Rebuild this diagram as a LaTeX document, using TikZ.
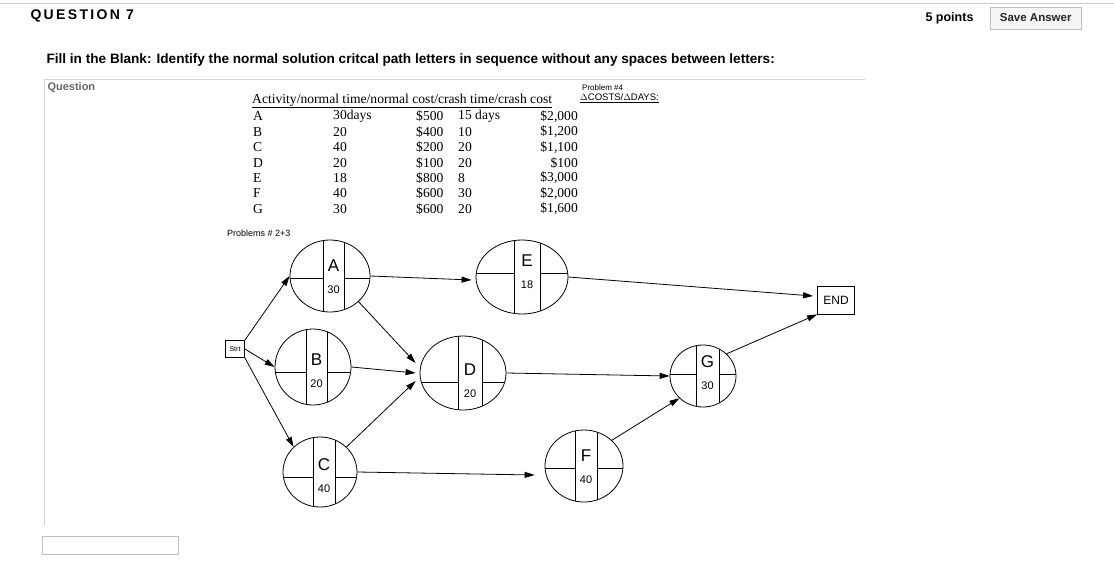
\documentclass[tikz,border=0pt]{standalone}
\usepackage{fontspec}
\setmainfont{Liberation Sans}
\newfontfamily\tablefont{Liberation Serif}
\usetikzlibrary{arrows.meta, positioning, calc, shapes.geometric}

\begin{document}
\begin{tikzpicture}[
    x=1pt, y=-1pt,
    >={Triangle[length=10pt, width=6pt]},
    act/.style={draw, thick, ellipse, inner sep=0pt},
    conn/.style={->, thick},
    hand/.style={font=\fontsize{11}{11}\selectfont},
    cell/.style={font=\tablefont\fontsize{13.6}{13}\selectfont, inner sep=0pt}
]
\useasboundingbox (0,0) rectangle (1114,581);

%-------------------------------
% 1) Page header
%-------------------------------
\draw[gray!40] (0,3) -- (1114,3);
\node[anchor=west, font=\bfseries\fontsize{14}{14}\selectfont] (qtitle) at (27,16) {Q\,U\,E\,S\,T\,I\,O\,N\,\ 7};
\node[anchor=west, font=\bfseries\fontsize{12.5}{12}\selectfont] (points) at (922,18) {5 points};
\node[draw=gray!50, fill=gray!8, anchor=west, minimum width=91pt, minimum height=22pt,
      font=\bfseries\fontsize{11.5}{11}\selectfont, text=gray!30!black] (save) at (990,18) {Save Answer};
\node[anchor=west, font=\bfseries\fontsize{13.6}{13}\selectfont] (prompt) at (43,60)
      {Fill in the Blank: Identify the normal solution critcal path letters in sequence without any spaces between letters:};
\draw[gray!35] (44,79) -- (865,79);
\draw[gray!35] (44,79) -- (44,525);
\node[anchor=west, text=gray!80!black, font=\bfseries\fontsize{11}{10}\selectfont] (qlabel) at (44,88) {Question};
\node[draw=gray!50, minimum width=136pt, minimum height=18pt, anchor=north west] (answer) at (42,536) {};

%-------------------------------
% 2) Activity table
%-------------------------------
\node[cell, anchor=west] (thead) at (252,101) {\underline{Activity/normal time/normal cost/crash time/crash cost}};
\foreach \row/\nt/\nc/\ct/\cc [count=\i] in {
    A/30days/\$500/15 days/\$2{,}000,
    B/20/\$400/10/\$1{,}200,
    C/40/\$200/20/\$1{,}100,
    D/20/\$100/20/\$100,
    E/18/\$800/8/\$3{,}000,
    F/40/\$600/30/\$2{,}000,
    G/30/\$600/20/\$1{,}600}{
  \node[cell, anchor=west] (r\i a) at (253,{101+15.4*\i}) {\row};
  \node[cell, anchor=west] (r\i b) at (333,{101+15.4*\i}) {\nt};
  \node[cell, anchor=west] (r\i c) at (416,{101+15.4*\i}) {\nc};
  \node[cell, anchor=west] (r\i d) at (458,{101+15.4*\i}) {\ct};
  \node[cell, anchor=east] (r\i e) at (578,{101+15.4*\i}) {\cc};
}
\node[anchor=west, font=\fontsize{8}{8}\selectfont, inner sep=0pt] (prob4) at (582,88) {Problem \#4};
\node[anchor=west, font=\fontsize{9.5}{9}\selectfont, inner sep=0pt] (deltas) at (580,98)
      {\underline{$\Delta$COSTS/$\Delta$DAYS:}};
\node[anchor=west, font=\fontsize{9}{9}\selectfont, inner sep=0pt] (prob23) at (227,233) {Problems \# 2+3};

%-------------------------------
% 3) Network nodes
%-------------------------------
\foreach \n/\cx/\cy/\rx/\ry/\l/\t/\vl/\vr/\hy in {
    A/330/276/40/36/A/30/323/344/278,
    B/313/367/38/38/B/20/306/327/372,
    C/320/472/37/35/C/40/313/335/477,
    D/463/373/43/37/D/20/458/482/382,
    E/522/277/46/37/E/18/514/540/273,
    F/584/466/39/36/F/40/575/597/468,
    G/703/376/33/31/G/30/696/719/374}{
  \node[act, minimum width={2*\rx pt}, minimum height={2*\ry pt}] (\n) at (\cx,\cy) {};
  \begin{scope}
    \clip (\cx,\cy) ellipse [x radius=\rx, y radius=\ry];
    \draw[thick] (\vl,\cy-\ry) -- (\vl,\cy+\ry);
    \draw[thick] (\vr,\cy-\ry) -- (\vr,\cy+\ry);
    \draw[thick] (\cx-\rx,\hy) -- (\vl,\hy);
    \draw[thick] (\vr,\hy) -- (\cx+\rx,\hy);
  \end{scope}
  \node[font=\fontsize{17}{17}\selectfont] (\n lab) at ({(\vl+\vr)/2},\hy-12) {\l};
  \node[hand] (\n time) at ({(\vl+\vr)/2},\hy+12) {\t};
}
\node[draw, thick, inner sep=1pt, minimum width=19pt, minimum height=17pt,
      font=\fontsize{7}{7}\selectfont] (start) at (235,349) {Strt};
\node[draw, thick, inner sep=1pt, minimum width=37pt, minimum height=28pt,
      font=\fontsize{12}{12}\selectfont] (end) at (836,300) {END};

%-------------------------------
% 4) Connections
%-------------------------------
\draw[conn] (start.north east) -- (A.west);
\draw[conn] (start.east) -- (B.west);
\draw[conn] (start.south east) -- (C.north west);
\draw[conn] (A.east) -- ($(E.west)+(-4,3)$);
\draw[conn] (A.south east) -- ($(D.west)+(-4,-10)$);
\draw[conn] (B.east) -- ($(D.west)+(-4,0)$);
\draw[conn] (C.north east) -- ($(D.west)+(-4,8)$);
\draw[conn] (C.east) -- ($(F.west)+(-10,9)$);
\draw[conn] (E.east) -- ($(end.west)+(-4,-4)$);
\draw[conn] (D.east) -- (G.west);
\draw[conn] (F.north east) -- (G.south west);
\draw[conn] (G.north east) -- (end.south west);

\end{tikzpicture}
\end{document}
